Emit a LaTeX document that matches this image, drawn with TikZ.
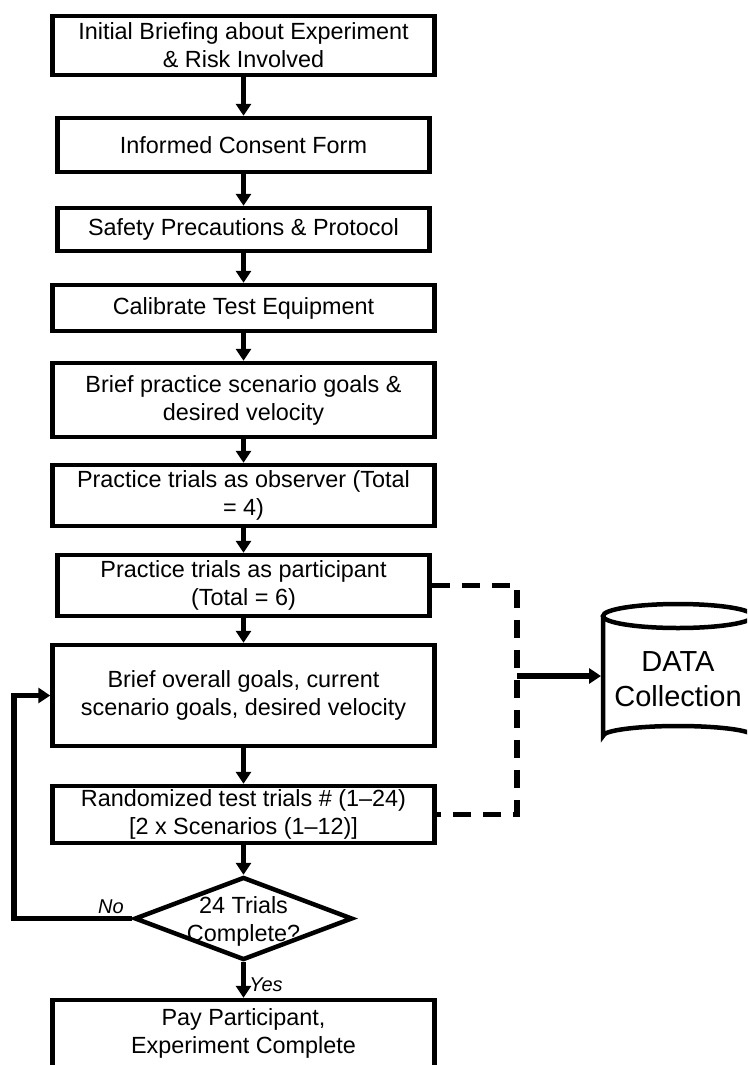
\documentclass[tikz,border=0pt]{standalone}
\usepackage{fontspec}
\setmainfont{Liberation Sans}
\usetikzlibrary{arrows.meta,shapes.geometric}
\begin{document}
\begin{tikzpicture}[x=1pt,y=-1pt,
  stepbox/.style={draw, line width=4.5pt, align=center, inner sep=0pt,
    font=\fontsize{23.4}{28}\selectfont},
  flow/.style={line width=5.5pt, -{Triangle[width=15pt,length=12pt]}},
  feed/.style={line width=5.5pt, dash pattern=on 18pt off 12pt},
  tag/.style={font=\fontsize{20}{24}\selectfont\itshape, inner sep=0pt}]
% canvas
\clip (0,0) rectangle (747,1065);
\fill[white] (0,0) rectangle (747,1065);

% process steps
\node[stepbox, minimum width=382pt, minimum height=59pt] (b1) at (243.5,45.5)
  {Initial Briefing about Experiment\\\& Risk Involved};
\node[stepbox, minimum width=372pt, minimum height=54pt] (b2) at (243.5,145)
  {Informed Consent Form};
\node[stepbox, minimum width=372pt, minimum height=43pt] (b3) at (243.5,229.5)
  {Safety Precautions \& Protocol};
\node[stepbox, minimum width=382pt, minimum height=46pt] (b4) at (243.5,308)
  {Calibrate Test Equipment};
\node[stepbox, minimum width=382pt, minimum height=74pt] (b5) at (243.5,400)
  {Brief practice scenario goals \&\\desired velocity};
\node[stepbox, minimum width=382pt, minimum height=61pt] (b6) at (243.5,495.5)
  {Practice trials as observer (Total\\= 4)};
\node[stepbox, minimum width=372pt, minimum height=61pt] (b7) at (243.5,585.5)
  {Practice trials as participant\\(Total = 6)};
\node[stepbox, minimum width=382pt, minimum height=101pt] (b8) at (243.5,695.5)
  {Brief overall goals, current\\scenario goals, desired velocity};
\node[stepbox, minimum width=382pt, minimum height=57pt] (b9) at (243.5,814.5)
  {Randomized test trials \# (1--24)\\{[}2 x Scenarios (1--12){]}};

% decision
\node[draw, diamond, line width=4.5pt, minimum width=218pt, minimum height=83pt,
  inner sep=0pt, aspect=2.6] (dec) at (243.5,918.5) {};
\node[align=center, inner sep=0pt, font=\fontsize{23.4}{28}\selectfont] (dectext)
  at (243.5,921) {24 Trials\\Complete?};

% final step
\node[stepbox, minimum width=382pt, minimum height=67pt] (b10) at (243.5,1033.5)
  {Pay Participant,\\Experiment Complete};

% main flow
\foreach \a/\b in {b1/b2,b2/b3,b3/b4,b4/b5,b5/b6,b6/b7,b7/b8,b8/b9,b9/dec}
  \draw[flow] (\a.south) -- (\b.north);
\draw[flow] (dec.south) -- (b10.north);
\node[tag] (yeslabel) at (266,985) {Yes};

% repeat loop
\coordinate (loopbend) at (14,918.5);
\draw[flow] (dec.west) -- (loopbend) |- (b8.west);
\node[tag] (nolabel) at (111,907) {No};

% data store
\draw[line width=4.5pt] (678,616) ellipse [x radius=75, y radius=12];
\draw[line width=4.5pt] (603,616) -- (603,736)
  arc[start angle=180, end angle=360, x radius=75, y radius=10] -- (753,616);
\node[minimum width=154pt, minimum height=130pt, inner sep=0pt, outer sep=0pt,
  align=center, font=\fontsize{29}{35}\selectfont] (data) at (678,679)
  {DATA\\Collection};

% recorded trials feed the data store
\coordinate (bus) at (517,676);
\draw[feed] (b7.east) -| (bus |- b9.east) -- (b9.east);
\draw[flow] (bus) -- (bus -| data.west);
\end{tikzpicture}
\end{document}
